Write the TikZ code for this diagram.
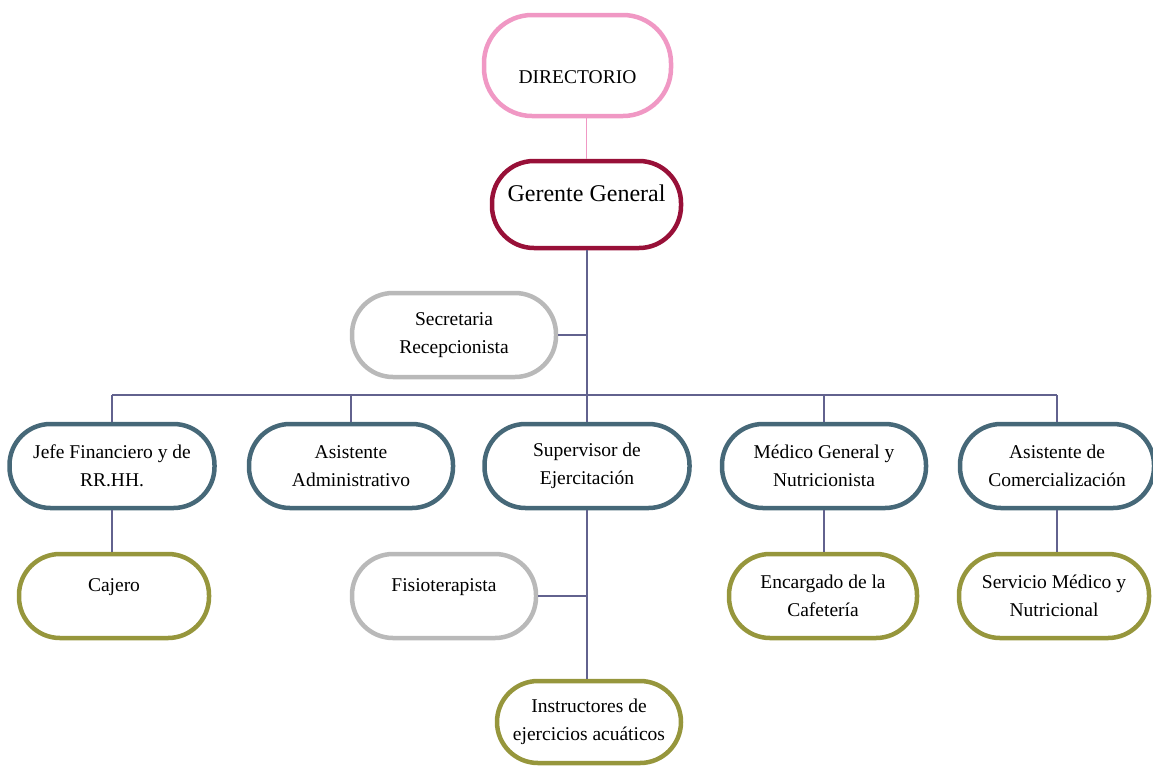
\documentclass[tikz,border=0pt]{standalone}
\usepackage{fontspec}
\setmainfont{Liberation Serif}
\definecolor{pinkc}{RGB}{240,152,196}
\definecolor{crim}{RGB}{152,16,56}
\definecolor{grayc}{RGB}{185,185,185}
\definecolor{slate}{RGB}{70,104,120}
\definecolor{olive}{RGB}{150,150,60}
\definecolor{linec}{RGB}{98,98,142}
\begin{document}
\begin{tikzpicture}[x=1pt,y=-1pt,
  box/.style={draw, line width=4.5pt, rounded corners=41pt, fill=white,
    inner sep=0pt, align=center, font=\fontsize{19.5}{28}\selectfont},
  pinkbox/.style={box, draw=pinkc, rounded corners=48pt},
  crimbox/.style={box, draw=crim, rounded corners=42pt},
  graybox/.style={box, draw=grayc},
  slatebox/.style={box, draw=slate},
  olivebox/.style={box, draw=olive},
  conn/.style={draw=linec, line width=1.6pt},
  pinkconn/.style={draw=pinkc, line width=1.6pt}]
\useasboundingbox (0,0) rectangle (1153,769);
% top
\node[pinkbox, minimum width=187pt, minimum height=101pt] (dir) at (577.5,65.5) {\raisebox{-17.5pt}[0pt][0pt]{DIRECTORIO}};
\node[crimbox, minimum width=189pt, minimum height=87pt, font=\fontsize{24}{28}\selectfont] (gg) at (586.5,204.5) {\raisebox{2.8pt}[0pt][0pt]{Gerente General}};
\node[graybox, minimum width=204pt, minimum height=84pt] (sec) at (454,335) {Secretaria\\Recepcionista};
% row 1
\node[slatebox, minimum width=205pt, minimum height=84pt] (jefe) at (112,466) {Jefe Financiero y de\\RR.HH.};
\node[slatebox, minimum width=204pt, minimum height=84pt] (aa) at (351,466) {Asistente\\Administrativo};
\node[slatebox, minimum width=205pt, minimum height=84pt] (sup) at (587,466) {Supervisor de\\Ejercitación};
\node[slatebox, minimum width=204pt, minimum height=84pt] (med) at (824,466) {Médico General y\\Nutricionista};
\node[slatebox, minimum width=194pt, minimum height=84pt] (ac) at (1057,466) {Asistente de\\Comercialización};
% row 2
\node[olivebox, minimum width=190pt, minimum height=84pt] (caj) at (114,596) {\raisebox{5pt}[0pt][0pt]{Cajero}};
\node[graybox, minimum width=184pt, minimum height=84pt] (fis) at (444,596) {\raisebox{5pt}[0pt][0pt]{Fisioterapista}};
\node[olivebox, minimum width=188pt, minimum height=84pt] (enc) at (823,596) {Encargado de la\\Cafetería};
\node[olivebox, minimum width=190pt, minimum height=84pt] (ser) at (1054,596) {Servicio Médico y\\Nutricional};
\node[olivebox, minimum width=184pt, minimum height=82pt] (ins) at (589,722) {Instructores de\\ejercicios acuáticos};
% connectors
\coordinate (bus) at (587,395);
\draw[pinkconn] (dir.south -| gg.north) -- (gg.north);
\draw[conn] (gg.south -| bus) -- (bus);
\draw[conn] (sec.east) -- (sec.east -| bus);
\draw[conn] (jefe.north |- bus) -- (ac.north |- bus);
\draw[conn] (jefe.north |- bus) -- (jefe.north);
\draw[conn] (aa.north |- bus) -- (aa.north);
\draw[conn] (bus) -- (sup.north);
\draw[conn] (med.north |- bus) -- (med.north);
\draw[conn] (ac.north |- bus) -- (ac.north);
\draw[conn] (jefe.south) -- (jefe.south |- caj.north);
\draw[conn] (med.south) -- (med.south |- enc.north);
\draw[conn] (ac.south) -- (ac.south |- ser.north);
\draw[conn] (sup.south) -- (sup.south |- ins.north);
\draw[conn] (fis.east) -- (fis.east -| sup.south);
\end{tikzpicture}
\end{document}
